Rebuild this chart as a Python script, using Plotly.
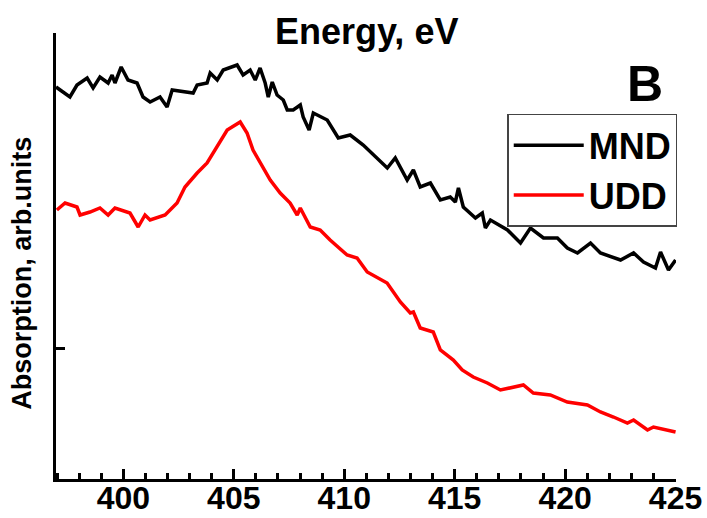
import plotly.graph_objects as go

# Energy (eV) and absorption (arb. units)
mnd_energy = [396.95, 397.58, 397.90, 398.36, 398.63, 398.94, 399.31, 399.49, 399.62, 399.90,
              400.21, 400.62, 400.89, 401.21, 401.66, 401.98, 402.21, 402.70, 403.16, 403.34,
              403.79, 403.93, 404.25, 404.52, 405.15, 405.42, 405.74, 405.97, 406.19, 406.42,
              406.56, 406.74, 406.96, 407.24, 407.42, 407.69, 408.01, 408.14, 408.41, 408.60,
              409.23, 409.73, 410.27, 410.86, 411.50, 411.95, 412.31, 412.85, 413.13, 413.44,
              413.90, 414.35, 414.80, 415.03, 415.17, 415.39, 415.94, 416.25, 416.39, 416.62,
              417.39, 417.98, 418.43, 419.02, 419.65, 420.10, 420.56, 421.15, 421.60, 422.19,
              422.51, 423.10, 423.55, 424.09, 424.32, 424.68, 425.00]
mnd_abs = [3.92, 3.82, 3.94, 4.01, 3.91, 4.02, 3.96, 4.04, 3.96, 4.12,
           3.99, 3.96, 3.82, 3.77, 3.82, 3.72, 3.89, 3.87, 3.86, 3.94,
           3.96, 4.06, 3.99, 4.09, 4.14, 4.04, 4.09, 3.99, 4.11, 3.96,
           3.82, 3.97, 3.84, 3.79, 3.69, 3.69, 3.74, 3.62, 3.49, 3.66,
           3.59, 3.41, 3.44, 3.34, 3.21, 3.11, 3.21, 2.99, 3.09, 2.92,
           2.96, 2.79, 2.82, 2.77, 2.91, 2.72, 2.61, 2.66, 2.51, 2.59,
           2.49, 2.36, 2.51, 2.41, 2.41, 2.31, 2.26, 2.36, 2.26, 2.22,
           2.19, 2.26, 2.17, 2.11, 2.27, 2.09, 2.19]

udd_energy = [396.99, 397.36, 397.90, 398.04, 398.49, 398.94, 399.31, 399.62, 400.30, 400.67,
              400.98, 401.21, 401.89, 402.43, 402.79, 403.34, 403.79, 404.25, 404.70, 405.29,
              405.60, 405.87, 406.19, 406.65, 407.10, 407.55, 407.87, 408.01, 408.46, 408.91,
              409.36, 410.13, 410.58, 411.04, 411.94, 412.40, 412.54, 412.99, 413.13, 413.44,
              414.03, 414.35, 414.94, 415.34, 415.84, 416.48, 417.07, 418.11, 418.56, 419.33,
              420.10, 421.01, 421.60, 422.19, 422.82, 423.10, 423.73, 424.00, 424.64, 425.00]
udd_abs = [2.69, 2.76, 2.72, 2.64, 2.67, 2.71, 2.64, 2.71, 2.66, 2.52,
           2.64, 2.59, 2.64, 2.76, 2.92, 3.06, 3.16, 3.32, 3.49, 3.57,
           3.46, 3.29, 3.16, 2.99, 2.86, 2.76, 2.64, 2.71, 2.52, 2.49,
           2.39, 2.24, 2.21, 2.07, 1.96, 1.82, 1.77, 1.66, 1.67, 1.51,
           1.47, 1.29, 1.19, 1.09, 1.02, 0.96, 0.89, 0.94, 0.86, 0.84,
           0.77, 0.74, 0.67, 0.62, 0.56, 0.59, 0.49, 0.52, 0.49, 0.47]

x_ticks = [400, 405, 410, 415, 420, 425]
y_ticks = [1.31]

FONT = "Liberation Sans, Arial, sans-serif"

fig = go.Figure()
fig.add_trace(go.Scatter(x=mnd_energy, y=mnd_abs, mode="lines", name="MND",
                         line=dict(color="black", width=3.5)))
fig.add_trace(go.Scatter(x=udd_energy, y=udd_abs, mode="lines", name="UDD",
                         line=dict(color="red", width=3.5)))

fig.update_layout(
    width=707, height=518,
    margin=dict(l=56, r=31, t=33, b=39, autoexpand=False),
    paper_bgcolor="white", plot_bgcolor="white",
    font=dict(family=FONT, color="black"),
    showlegend=True,
    legend=dict(x=1.002, y=0.692, xanchor="right", yanchor="middle",
                bordercolor="#444", borderwidth=1.5, bgcolor="white",
                font=dict(family=FONT, size=36, weight="bold", color="black"),
                tracegroupgap=0, itemwidth=70),
    xaxis=dict(range=[396.95, 425.02], tickvals=x_ticks, ticktext=[str(v) for v in x_ticks],
               ticks="inside", ticklen=10, tickwidth=3, tickcolor="black",
               showline=True, linewidth=3, linecolor="black", mirror=False,
               showgrid=False, zeroline=False, automargin=False,
               ticklabelstandoff=-11,
               tickfont=dict(family=FONT, size=32, weight="bold", color="black"),
               minor=dict(dtick=1, tick0=400, ticks="inside", ticklen=6, tickwidth=2.5,
                          tickcolor="black", showgrid=False)),
    yaxis=dict(range=[0, 4.46], tickvals=y_ticks, showticklabels=False,
               ticks="inside", ticklen=9, tickwidth=3, tickcolor="black",
               showline=True, linewidth=3, linecolor="black",
               showgrid=False, zeroline=False, automargin=False),
)

fig.add_annotation(text="Energy, eV", xref="paper", yref="paper", x=0.5, y=1.0,
                   xanchor="center", yanchor="middle", yshift=2, showarrow=False,
                   font=dict(family=FONT, size=36, weight="bold", color="black"))
fig.add_annotation(text="B", xref="paper", yref="paper", x=0.95, y=0.885,
                   xanchor="center", yanchor="middle", showarrow=False,
                   font=dict(family=FONT, size=50, weight="bold", color="black"))
fig.add_annotation(text="Absorption, arb.units", xref="paper", yref="paper",
                   x=-0.055, y=0.462, xanchor="center", yanchor="middle",
                   textangle=-90, showarrow=False,
                   font=dict(family=FONT, size=27, weight="bold", color="black"))

fig.write_html("out.html")
